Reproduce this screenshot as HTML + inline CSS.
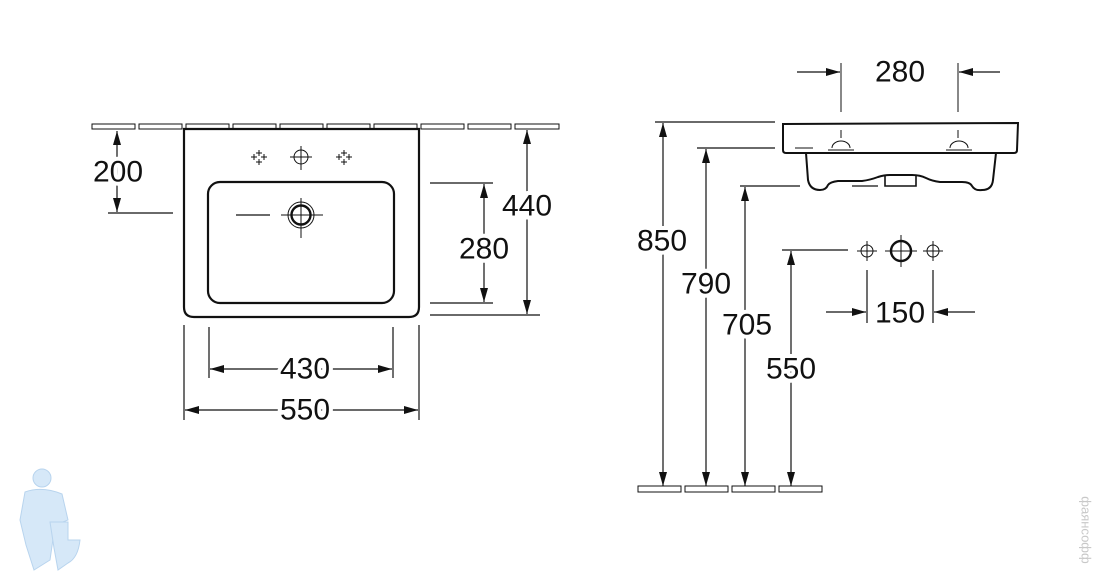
<!DOCTYPE html>
<html><head><meta charset="utf-8"><style>
html,body{margin:0;padding:0;background:#fff;}
svg{display:block;}
text{font-family:"Liberation Sans",Arial,sans-serif;font-size:30px;fill:#111;text-anchor:middle;dominant-baseline:central;}
.bg{stroke:#fff;stroke-width:8px;paint-order:stroke;}
</style></head><body>
<svg width="1100" height="584" viewBox="0 0 1100 584" xmlns="http://www.w3.org/2000/svg">
<defs>
<marker id="a" viewBox="0 0 14 8" refX="14" refY="4" markerWidth="14" markerHeight="8" markerUnits="userSpaceOnUse" orient="auto-start-reverse"><path d="M0,0 L14,4 L0,8 Z" fill="#111"/></marker>
</defs>
<g stroke="#111" fill="none" stroke-width="1.2">
<g stroke-width="1">
<rect x="92" y="124" width="43" height="5"/><rect x="139" y="124" width="43" height="5"/><rect x="186" y="124" width="43" height="5"/><rect x="233" y="124" width="43" height="5"/><rect x="280" y="124" width="43" height="5"/><rect x="327" y="124" width="43" height="5"/><rect x="374" y="124" width="43" height="5"/><rect x="421" y="124" width="43" height="5"/><rect x="468" y="124" width="43" height="5"/><rect x="515" y="124" width="44" height="5"/>
</g>
<path d="M184,129 H419 V307 Q419,317 409,317 H194 Q184,317 184,307 Z" stroke-width="2.2"/>
<rect x="208" y="182" width="186" height="121" rx="12" stroke-width="2.2"/>
<g stroke-width="1">
<path d="M259,150v6 M256,153h6 M259,159v6 M256,162h6 M251,157h6 M254,154v6 M261,157h6 M264,154v6" />
<path d="M344,150v6 M341,153h6 M344,159v6 M341,162h6 M336,157h6 M339,154v6 M346,157h6 M349,154v6"/>
<circle cx="301" cy="157" r="7"/>
<path d="M301,146v24 M290,157h22"/>
<line x1="236" y1="215" x2="270" y2="215" stroke-width="1.2"/>
<circle cx="301" cy="215" r="13"/>
<path d="M301,198v40 M281,215h42"/>
</g>
<circle cx="301" cy="215" r="9.5" stroke-width="2.4"/>
<line x1="108" y1="213" x2="173" y2="213"/>
<line x1="117" y1="131" x2="117" y2="212" marker-start="url(#a)" marker-end="url(#a)"/>
<line x1="430" y1="183" x2="493" y2="183"/>
<line x1="430" y1="303" x2="493" y2="303"/>
<line x1="484" y1="184" x2="484" y2="302" marker-start="url(#a)" marker-end="url(#a)"/>
<line x1="430" y1="315" x2="540" y2="315"/>
<line x1="527" y1="130" x2="527" y2="314" marker-start="url(#a)" marker-end="url(#a)"/>
<line x1="184" y1="325" x2="184" y2="420"/><line x1="419" y1="325" x2="419" y2="420"/>
<line x1="209" y1="327" x2="209" y2="378"/><line x1="393" y1="327" x2="393" y2="378"/>
<line x1="210" y1="369" x2="392" y2="369" marker-start="url(#a)" marker-end="url(#a)"/>
<line x1="185" y1="410" x2="418" y2="410" marker-start="url(#a)" marker-end="url(#a)"/>

<path d="M783,124 L1018,123 L1017,150 Q1017,153 1014,153 H786 Q783,153 783,150 Z" stroke-width="2"/>
<path d="M806,153 L808,180 Q810,190 820,190 Q826,190 828,185 Q830,182 838,181 L862,181 Q870,180 878,177 Q884,175 890,175 L912,175 Q920,175 926,178 Q932,181 940,182 L962,182 Q970,182 972,186 Q975,191 982,190 Q992,190 993,180 L996,153" stroke-width="2"/>
<path d="M885,176 V186 H916 V176" stroke-width="1.6"/>
<path d="M795,148h18 M832,148a9,7 0 0 1 18,0 M950,148a9,7 0 0 1 18,0 M828,150h26 M946,150h26" stroke-width="1"/>
<path d="M841,63V112 M958,63V112 M841,130v8 M958,130v8" stroke-width="1"/>
<line x1="797" y1="72" x2="840" y2="72" marker-end="url(#a)"/>
<line x1="1000" y1="72" x2="959" y2="72" marker-end="url(#a)"/>
<line x1="655" y1="122" x2="775" y2="122"/>
<line x1="697" y1="148" x2="775" y2="148"/>
<line x1="740" y1="186" x2="800" y2="186"/>
<line x1="852" y1="186" x2="878" y2="186"/>
<line x1="782" y1="250" x2="848" y2="250"/>
<line x1="663" y1="123" x2="663" y2="486" marker-start="url(#a)" marker-end="url(#a)"/>
<line x1="706" y1="149" x2="706" y2="486" marker-start="url(#a)" marker-end="url(#a)"/>
<line x1="745" y1="187" x2="745" y2="486" marker-start="url(#a)" marker-end="url(#a)"/>
<line x1="791" y1="251" x2="791" y2="486" marker-start="url(#a)" marker-end="url(#a)"/>
<g stroke-width="1">
<rect x="638" y="486" width="43" height="6"/><rect x="685" y="486" width="43" height="6"/><rect x="732" y="486" width="43" height="6"/><rect x="779" y="486" width="43" height="6"/>
<circle cx="867" cy="251" r="6"/><path d="M867,241v20 M857,251h20"/>
<circle cx="933" cy="251" r="6"/><path d="M933,241v20 M923,251h20"/>
<path d="M901,235v32 M885,251h32"/>
</g>
<circle cx="901" cy="251" r="10" stroke-width="2.4"/>
<line x1="867" y1="270" x2="867" y2="323"/><line x1="933" y1="270" x2="933" y2="323"/>
<line x1="826" y1="312" x2="866" y2="312" marker-end="url(#a)"/>
<line x1="975" y1="312" x2="934" y2="312" marker-end="url(#a)"/>
</g>
<text class="bg" x="118" y="172">200</text>
<text class="bg" x="484" y="249">280</text>
<text class="bg" x="527" y="206">440</text>
<text class="bg" x="305" y="369">430</text>
<text class="bg" x="305" y="410">550</text>
<text class="bg" x="900" y="72">280</text>
<text class="bg" x="662" y="241">850</text>
<text class="bg" x="706" y="284">790</text>
<text class="bg" x="747" y="325">705</text>
<text class="bg" x="791" y="369">550</text>
<text class="bg" x="900" y="313">150</text>
<g fill="#d6e8f8" stroke="#b8d4ee" stroke-width="1">
<circle cx="42" cy="478" r="9"/>
<path d="M25,492 Q42,486 62,494 L68,520 L55,525 L50,560 L34,570 L26,545 L20,520 Z"/>
<path d="M50,522 H68 V540 H80 Q78,558 68,563 L58,570 L54,548 Z"/>
</g>
<text x="1086" y="530" transform="rotate(90 1086 530)" style="font-size:13px;fill:#c8c8c8">фаянсофф</text>
</svg>
</body></html>
